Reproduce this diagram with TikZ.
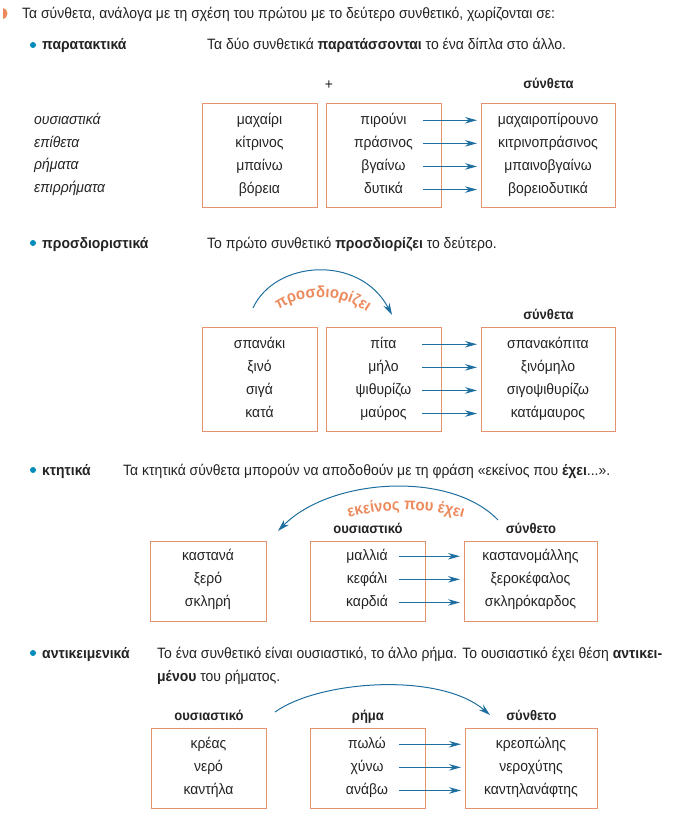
\documentclass[tikz,border=0pt]{standalone}
\usepackage{fontspec}
\setmainfont[FakeStretch=0.93]{Liberation Sans}
\usetikzlibrary{positioning}
\usetikzlibrary{arrows.meta}
\usetikzlibrary{decorations.text}
\definecolor{boxorange}{RGB}{226, 146, 110}
\definecolor{labelorange}{RGB}{236, 138, 92}
\definecolor{arrowblue}{RGB}{30, 110, 160}
\definecolor{dotblue}{RGB}{0, 140, 186}
\definecolor{ink}{RGB}{35, 35, 35}
\newlength{\rowgap}
\setlength{\rowgap}{8.2pt}
\newlength{\headgap}
\setlength{\headgap}{4pt}
\tikzset{
  every node/.style={text=ink, font=\fontsize{15}{18}\selectfont},
  word/.style={inner sep=0pt, text height=11pt, text depth=3.5pt},
  head/.style={word, font=\fontsize{14}{17}\selectfont\bfseries},
  kind/.style={anchor=base west, inner sep=0pt, font=\fontsize{15}{18}\selectfont\bfseries},
  say/.style={anchor=base west, inner sep=0pt},
  dot/.style={circle, fill=dotblue, inner sep=0pt, minimum size=6pt},
  wordbox/.style={rectangle, draw=boxorange, line width=0.9pt, inner sep=0pt, anchor=north west},
  link/.style={draw=arrowblue, line width=1pt, -{Stealth[length=12pt, width=6.5pt]}},
  arcarrow/.style={draw=arrowblue, line width=1pt, -{Stealth[length=12pt, width=7pt]}}
}
\newcommand{\arclabel}{\fontsize{16}{19}\selectfont\bfseries\color{labelorange}}

\begin{document}
\begin{tikzpicture}[x=1pt, y=-1pt]
\useasboundingbox (0,0) rectangle (691,816);

% intro
\fill[labelorange] (3,19) arc[start angle=90, end angle=-90, x radius=4.5, y radius=5.5] -- cycle;
\node[say](intro) at (22,19) {Τα σύνθετα, ανάλογα με τη σχέση του πρώτου με το δεύτερο συνθετικό, χωρίζονται σε:};

% --- παρατακτικά
\node[dot](d1) at (33,45) {};
\node[kind](k1) at (42,50) {παρατακτικά};
\node[say](t1) at (207,50) {Τα δύο συνθετικά \textbf{παρατάσσονται} το ένα δίπλα στο άλλο.};

\node[wordbox, minimum width=115pt, minimum height=104pt](b11) at (202,103) {};
\node[wordbox, minimum width=115pt, minimum height=104pt](b12) at (326,103) {};
\node[wordbox, minimum width=134pt, minimum height=104pt](b13) at (481,103) {};
\node[word, anchor=base](plus) at (329,89) {+};
\node[head](h13)[above=11pt of b13] {σύνθετα};

\node[say, font=\fontsize{15}{18}\selectfont\itshape](l1) at (34,124) {ουσιαστικά};
\node[say, font=\fontsize{15}{18}\selectfont\itshape](l2) at (34,147) {επίθετα};
\node[say, font=\fontsize{15}{18}\selectfont\itshape](l3) at (34,169) {ρήματα};
\node[say, font=\fontsize{15}{18}\selectfont\itshape](l4) at (34,192) {επιρρήματα};

\node[word, anchor=base](w11) at (259.5,124) {μαχαίρι};
\node[word](w12)[below=\rowgap of w11] {κίτρινος};
\node[word](w13)[below=\rowgap of w12] {μπαίνω};
\node[word](w14)[below=\rowgap of w13] {βόρεια};
\node[word, anchor=base](w21) at (383.5,124) {πιρούνι};
\node[word](w22)[below=\rowgap of w21] {πράσινος};
\node[word](w23)[below=\rowgap of w22] {βγαίνω};
\node[word](w24)[below=\rowgap of w23] {δυτικά};
\node[word, anchor=base](w31) at (548,124) {μαχαιροπίρουνο};
\node[word](w32)[below=\rowgap of w31] {κιτρινοπράσινος};
\node[word](w33)[below=\rowgap of w32] {μπαινοβγαίνω};
\node[word](w34)[below=\rowgap of w33] {βορειοδυτικά};

\coordinate (s1from) at ([xshift=-19pt]b12.east);
\coordinate (s1to) at ([xshift=-4pt]b13.west);
\draw[link] (s1from |- w21) -- (s1to |- w31);
\draw[link] (s1from |- w22) -- (s1to |- w32);
\draw[link] (s1from |- w23) -- (s1to |- w33);
\draw[link] (s1from |- w24) -- (s1to |- w34);

% --- προσδιοριστικά
\node[dot](d2) at (33,243) {};
\node[kind](k2) at (42,248) {προσδιοριστικά};
\node[say](t2) at (207,248) {Το πρώτο συνθετικό \textbf{προσδιορίζει} το δεύτερο.};

\node[wordbox, minimum width=115pt, minimum height=104pt](b21) at (202,327) {};
\node[wordbox, minimum width=115pt, minimum height=104pt](b22) at (326,327) {};
\node[wordbox, minimum width=134pt, minimum height=104pt](b23) at (481,327) {};
\node[head](h23)[above=\headgap of b23] {σύνθετα};

\node[word, anchor=base](v11) at (259.5,348) {σπανάκι};
\node[word](v12)[below=\rowgap of v11] {ξινό};
\node[word](v13)[below=\rowgap of v12] {σιγά};
\node[word](v14)[below=\rowgap of v13] {κατά};
\node[word, anchor=base](v21) at (383.5,348) {πίτα};
\node[word](v22)[below=\rowgap of v21] {μήλο};
\node[word](v23)[below=\rowgap of v22] {ψιθυρίζω};
\node[word](v24)[below=\rowgap of v23] {μαύρος};
\node[word, anchor=base](v31) at (548,348) {σπανακόπιτα};
\node[word](v32)[below=\rowgap of v31] {ξινόμηλο};
\node[word](v33)[below=\rowgap of v32] {σιγοψιθυρίζω};
\node[word](v34)[below=\rowgap of v33] {κατάμαυρος};

\coordinate (s2from) at ([xshift=-20pt]b22.east);
\coordinate (s2to) at ([xshift=-4pt]b23.west);
\draw[link] (s2from |- v21) -- (s2to |- v31);
\draw[link] (s2from |- v22) -- (s2to |- v32);
\draw[link] (s2from |- v23) -- (s2to |- v33);
\draw[link] (s2from |- v24) -- (s2to |- v34);

\coordinate (arc2a) at (253,308);
\coordinate (arc2b) at (392,315);
\draw[arcarrow] (arc2a) .. controls (275,260) and (360,254) .. (arc2b);
\path[decorate, decoration={text along path, text={|\arclabel|προσδιορίζει}, text align=center}]
  (268,319) .. controls (292,291) and (346,289) .. (378,321);

% --- κτητικά
\node[dot](d3) at (33,470) {};
\node[kind](k3) at (42,475) {κτητικά};
\node[say](t3) at (123,475) {Τα κτητικά σύνθετα μπορούν να αποδοθούν με τη φράση «εκείνος που \textbf{έχει}...».};

\node[wordbox, minimum width=116pt, minimum height=80pt](b31) at (150,541) {};
\node[wordbox, minimum width=115pt, minimum height=80pt](b32) at (310,541) {};
\node[wordbox, minimum width=133pt, minimum height=80pt](b33) at (464,541) {};
\node[head](h32)[above=\headgap of b32] {ουσιαστικό};
\node[head](h33)[above=\headgap of b33] {σύνθετο};

\node[word, anchor=base](u11) at (208,560) {καστανά};
\node[word](u12)[below=\rowgap of u11] {ξερό};
\node[word](u13)[below=\rowgap of u12] {σκληρή};
\node[word, anchor=base](u21) at (367,560) {μαλλιά};
\node[word](u22)[below=\rowgap of u21] {κεφάλι};
\node[word](u23)[below=\rowgap of u22] {καρδιά};
\node[word, anchor=base](u31) at (530.5,560) {καστανομάλλης};
\node[word](u32)[below=\rowgap of u31] {ξεροκέφαλος};
\node[word](u33)[below=\rowgap of u32] {σκληρόκαρδος};

\coordinate (s3from) at ([xshift=-27pt]b32.east);
\coordinate (s3to) at ([xshift=-4pt]b33.west);
\draw[link] (s3from |- u21) -- (s3to |- u31);
\draw[link] (s3from |- u22) -- (s3to |- u32);
\draw[link] (s3from |- u23) -- (s3to |- u33);

\coordinate (arc3a) at (498,520);
\coordinate (arc3b) at (278,531);
\draw[arcarrow] (arc3a) .. controls (450,470) and (330,478) .. (arc3b);
\path[decorate, decoration={text along path, text={|\arclabel|εκείνος που έχει}, text align=center}]
  (330,525) .. controls (372,505) and (438,505) .. (482,525);

% --- αντικειμενικά
\node[dot](d4) at (33,653) {};
\node[kind](k4) at (42,658) {αντικειμενικά};
\node[say](t4) at (157,658) {Το ένα συνθετικό είναι ουσιαστικό, το άλλο ρήμα. Το ουσιαστικό έχει θέση \textbf{αντικει-}};
\node[say](t4b) at (157,681) {\textbf{μένου} του ρήματος.};

\node[wordbox, minimum width=115pt, minimum height=80pt](b41) at (151,728) {};
\node[wordbox, minimum width=115pt, minimum height=80pt](b42) at (310,728) {};
\node[wordbox, minimum width=132pt, minimum height=80pt](b43) at (465,728) {};
\node[head](h41)[above=\headgap of b41] {ουσιαστικό};
\node[head](h42)[above=\headgap of b42] {ρήμα};
\node[head](h43)[above=\headgap of b43] {σύνθετο};

\node[word, anchor=base](r11) at (208.5,748) {κρέας};
\node[word](r12)[below=\rowgap of r11] {νερό};
\node[word](r13)[below=\rowgap of r12] {καντήλα};
\node[word, anchor=base](r21) at (367,748) {πωλώ};
\node[word](r22)[below=\rowgap of r21] {χύνω};
\node[word](r23)[below=\rowgap of r22] {ανάβω};
\node[word, anchor=base](r31) at (531,748) {κρεοπώλης};
\node[word](r32)[below=\rowgap of r31] {νεροχύτης};
\node[word](r33)[below=\rowgap of r32] {καντηλανάφτης};

\coordinate (s4from) at ([xshift=-27pt]b42.east);
\coordinate (s4to) at ([xshift=-4pt]b43.west);
\draw[link] (s4from |- r21) -- (s4to |- r31);
\draw[link] (s4from |- r22) -- (s4to |- r32);
\draw[link] (s4from |- r23) -- (s4to |- r33);

\coordinate (arc4a) at (275,712);
\coordinate (arc4b) at (490,715);
\draw[arcarrow] (arc4a) .. controls (320,680) and (440,672) .. (arc4b);

\end{tikzpicture}
\end{document}
